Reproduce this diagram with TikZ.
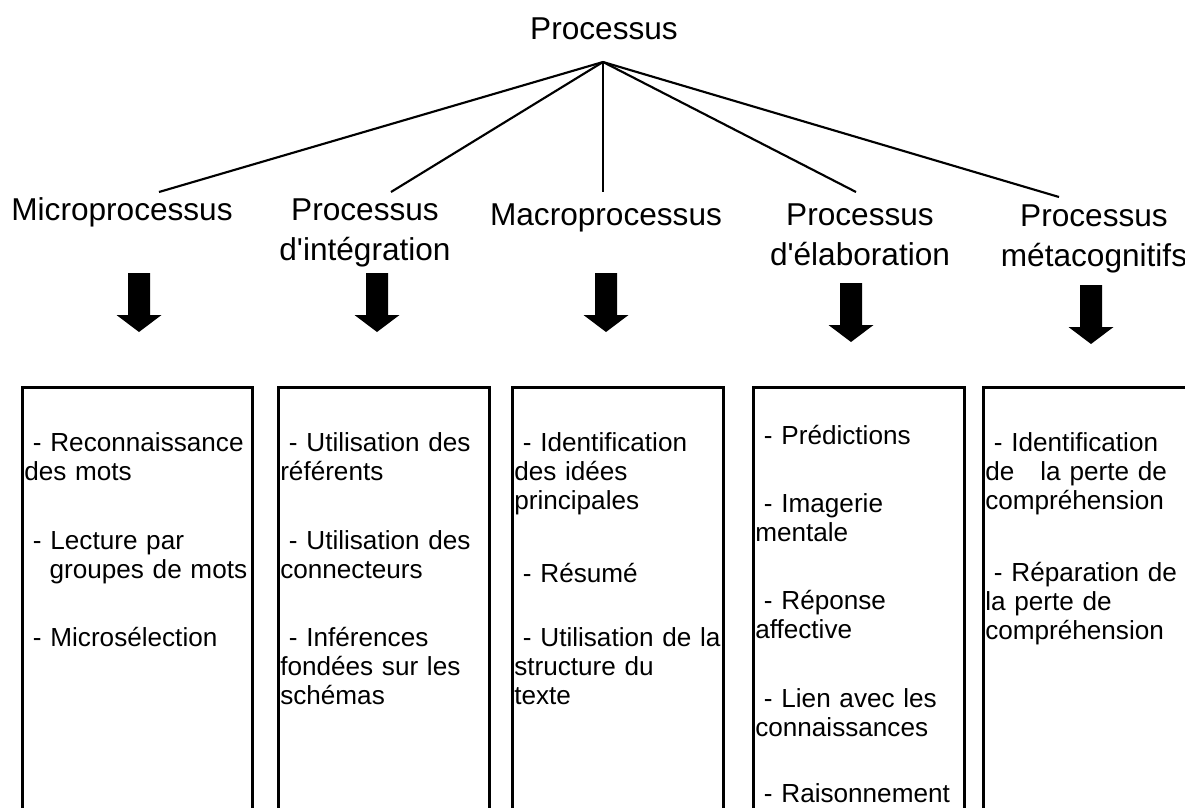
\documentclass[tikz,border=0pt]{standalone}
\usepackage{fontspec}
\setmainfont{Liberation Sans}
\usetikzlibrary{positioning}
\newcommand{\headsize}{\fontsize{23.7}{30}\selectfont}
\newcommand{\itemsize}{\fontsize{19.6}{22.1}\selectfont}
\newcommand{\apos}{\textquotesingle}

\begin{document}
\begin{tikzpicture}[
    x=0.75pt, y=-0.75pt,
    head_label/.style={font=\headsize, align=center, text width=195pt, inner sep=0pt, anchor=base},
    item_text/.style={font=\itemsize, align=left, text width=200pt, inner sep=0pt, anchor=base west},
    branch_line/.style={line width=1.6pt},
    column_box/.style={line width=2.25pt},
    block_arrow/.style={fill=black}
]
    \useasboundingbox (0,0) rectangle (1185,807);
    \clip (0,0) rectangle (1185,807);

    % 1. TOP OF THE TREE
    \node[head_label] (title) at (604,39) {Processus};
    \coordinate (hub) at (603,62);

    % 2. THE FIVE PROCESSES
    \node[head_label] (micro) at (122,220) {Microprocessus};
    \node[head_label] (integ) at (365,220) {Processus\\d\apos intégration};
    \node[head_label] (macro) at (606,225) {Macroprocessus};
    \node[head_label] (elab) at (860,225) {Processus\\d\apos élaboration};
    \node[head_label] (meta) at (1094,226) {Processus\\métacognitifs};

    \coordinate (micro_end) at (159,192);
    \coordinate (integ_end) at (391,192);
    \coordinate (macro_end) at (603,192);
    \coordinate (elab_end) at (856,192);
    \coordinate (meta_end) at (1059,197);

    \foreach \n in {micro, integ, macro, elab, meta} {
        \draw[branch_line] (hub) -- (\n_end);
    }

    % 3. BLOCK ARROWS
    \foreach \x/\t in {139/273, 377/273, 606/273, 851/283, 1091/285} {
        \fill[block_arrow] (\x-11,\t) -- (\x+11,\t) -- (\x+11,\t+42) -- (\x+22.5,\t+42)
            -- (\x,\t+59) -- (\x-22.5,\t+42) -- (\x-11,\t+42) -- cycle;
    }

    % 4. COLUMNS
    \foreach \l/\r in {22/252, 278/489, 512/723, 753/964, 983/1200} {
        \draw[column_box] (\l,387.5) rectangle (\r,830);
    }

    % 5. CONTENTS
    \node[item_text] (reco) at (24,451) {~- Reconnaissance\\des mots};
    \node[item_text] (lect) at (24,549) {~- Lecture par\\\hspace*{19pt}groupes de mots};
    \node[item_text] (msel) at (24,646) {~- Microsélection};

    \node[item_text] (refe) at (280,451) {~- Utilisation des\\référents};
    \node[item_text] (conn) at (280,549) {~- Utilisation des\\connecteurs};
    \node[item_text] (infe) at (280,646) {~- Inférences\\fondées sur les\\schémas};

    \node[item_text] (idee) at (514,451) {~- Identification\\des idées\\principales};
    \node[item_text] (resu) at (514,582) {~- Résumé};
    \node[item_text] (stru) at (514,646) {~- Utilisation de la\\structure du\\texte};

    \node[item_text] (pred) at (755,444) {~- Prédictions};
    \node[item_text] (imag) at (755,512) {~- Imagerie\\mentale};
    \node[item_text] (repo) at (755,609) {~- Réponse\\affective};
    \node[item_text] (lien) at (755,707) {~- Lien avec les\\connaissances};
    \node[item_text] (rais) at (755,802) {~- Raisonnement};

    \node[item_text] (perte) at (985,451) {~- Identification\\de~~~la perte de\\compréhension};
    \node[item_text] (repa) at (985,581) {~- Réparation de\\la perte de\\compréhension};

\end{tikzpicture}
\end{document}
